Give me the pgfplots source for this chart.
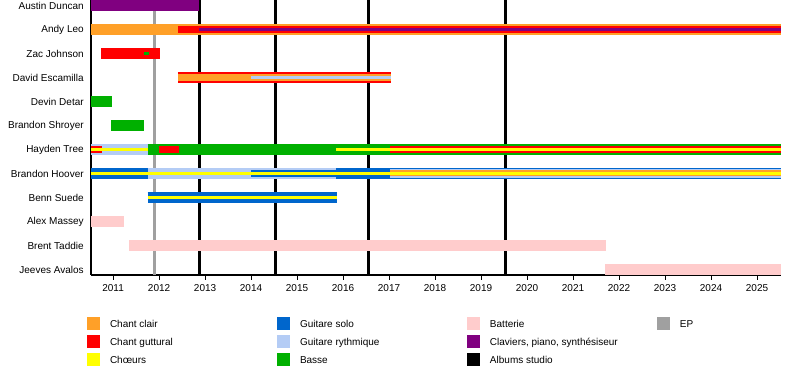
\documentclass[border=0pt]{standalone}
\usepackage{fontspec}
\setmainfont{Liberation Sans}
\usepackage{pgfplots}
\pgfplotsset{compat=1.18}
\definecolor{corange}{RGB}{255,160,40}
\definecolor{cred}{RGB}{255,0,0}
\definecolor{cyellow}{RGB}{255,255,0}
\definecolor{cblue}{RGB}{0,102,204}
\definecolor{clblue}{RGB}{180,204,245}
\definecolor{cgreen}{RGB}{0,176,0}
\definecolor{cpink}{RGB}{255,204,204}
\definecolor{cpurple}{RGB}{128,0,128}
\definecolor{cgray}{RGB}{160,160,160}
\newcommand{\seg}[5]{\addplot[#1,#2] coordinates {(#3,#5) (#4,#5)};}
\newcommand{\vmark}[2]{\addplot[#1,forget plot,mark=none] coordinates {(#2,-0.229) (#2,11.229)};}
\begin{document}
\begin{tikzpicture}
\useasboundingbox (0,0) rectangle (600pt,277.5pt);
\begin{axis}[
  scale only axis, width=517.5pt, height=206.25pt,
  at={(68.25pt,71.25pt)}, anchor=south west,
  xmin=2010.52, xmax=2025.52, ymin=-0.229, ymax=11.229,
  axis x line*=bottom, axis y line*=left,
  axis line style={line width=0.9pt,-},
  xtick={2011,...,2025},
  tick align=outside, major tick length=3.75pt,
  xtick style={line width=0.6pt,black},
  ytick={0,...,11},
  yticklabels={Jeeves Avalos,Brent Taddie,Alex Massey,Benn Suede,Brandon Hoover,Hayden Tree,Brandon Shroyer,Devin Detar,David Escamilla,Zac Johnson,Andy Leo,Austin Duncan},
  ytick style={draw=none},
  yticklabel style={xshift=1.8pt},
  /pgf/number format/assume math mode=true,
  /pgf/number format/1000 sep={},
  tick label style={font=\fontsize{7.5}{9}\selectfont},
  full/.style={line width=8.8pt,line cap=butt,forget plot,mark=none},
  mid/.style={line width=5.625pt,line cap=butt,forget plot,mark=none},
  mid2/.style={line width=6.75pt,line cap=butt,forget plot,mark=none},
  mid3/.style={line width=4.5pt,line cap=butt,forget plot,mark=none},
  thin/.style={line width=2.625pt,line cap=butt,forget plot,mark=none},
  legend columns=4,
  legend cell align=left,
  legend image code/.code={\fill[#1] (0pt,-4.875pt) rectangle (9.75pt,4.875pt);},
  legend style={draw=none, fill=none, at={(0,0)}, anchor=north west,
    xshift=-3pt, yshift=-30pt, inner sep=0pt, outer sep=0pt,
    font=\fontsize{7.5}{9}\selectfont,
    nodes={text height=7pt, text depth=2pt, inner ysep=2.25pt, inner xsep=0pt},
    /tikz/every odd column/.append style={column sep=7.5pt},
    /tikz/every even column/.append style={column sep=0pt}},
]
% vertical lines: EP and studio albums
\vmark{cgray,line width=2.25pt}{2011.91}
\vmark{black,line width=2.25pt}{2012.87}
\vmark{black,line width=2.25pt}{2014.54}
\vmark{black,line width=2.25pt}{2016.55}
\vmark{black,line width=2.25pt}{2019.54}
% Austin Duncan (11)
\seg{cpurple}{full}{2010.52}{2012.87}{11}
% Andy Leo (10)
\seg{corange}{full}{2010.52}{2025.52}{10}
\seg{cred}{mid}{2012.41}{2025.52}{10}
\seg{cpurple}{thin}{2012.87}{2025.52}{10}
% Zac Johnson (9)
\seg{cred}{full}{2010.74}{2012.02}{9}
\seg{cgreen}{thin}{2011.67}{2011.77}{9}
% David Escamilla (8)
\seg{cred}{full}{2012.41}{2017.04}{8}
\seg{corange}{mid}{2012.41}{2017.04}{8}
\seg{clblue}{thin}{2014.0}{2017.04}{8}
% Devin Detar (7)
\seg{cgreen}{full}{2010.52}{2010.98}{7}
% Brandon Shroyer (6)
\seg{cgreen}{full}{2010.96}{2011.67}{6}
% Hayden Tree (5)
\seg{clblue}{full}{2010.52}{2011.75}{5}
\seg{cred}{mid}{2010.52}{2010.75}{5}
\seg{cyellow}{thin}{2010.52}{2011.75}{5}
\seg{cgreen}{full}{2011.75}{2025.52}{5}
\seg{cred}{mid}{2012.0}{2012.43}{5}
\seg{cred}{mid}{2017.02}{2025.52}{5}
\seg{cyellow}{thin}{2015.85}{2025.52}{5}
% Brandon Hoover (4)
\seg{cblue}{full}{2010.52}{2011.75}{4}
\seg{clblue}{full}{2011.75}{2014.0}{4}
\seg{clblue}{full}{2014.0}{2015.85}{4}
\seg{cblue}{mid}{2014.0}{2015.85}{4}
\seg{cblue}{full}{2015.85}{2025.52}{4}
\seg{clblue}{mid2}{2017.02}{2025.52}{4}
\seg{corange}{mid3}{2017.02}{2025.52}{4}
\seg{cyellow}{thin}{2010.52}{2025.52}{4}
% Benn Suede (3)
\seg{cblue}{full}{2011.75}{2015.87}{3}
\seg{cyellow}{thin}{2011.75}{2015.87}{3}
% Alex Massey (2)
\seg{cpink}{full}{2010.52}{2011.24}{2}
% Brent Taddie (1)
\seg{cpink}{full}{2011.35}{2021.72}{1}
% Jeeves Avalos (0)
\seg{cpink}{full}{2021.70}{2025.52}{0}
% legend (row-major, 4 columns)
\addlegendimage{fill=corange,draw=none}\addlegendentry{\makebox[125.25pt][l]{Chant clair}}
\addlegendimage{fill=cblue,draw=none}\addlegendentry{\makebox[125.25pt][l]{Guitare solo}}
\addlegendimage{fill=cpink,draw=none}\addlegendentry{\makebox[125.25pt][l]{Batterie}}
\addlegendimage{fill=cgray,draw=none}\addlegendentry{\makebox[40pt][l]{EP}}
\addlegendimage{fill=cred,draw=none}\addlegendentry{\makebox[125.25pt][l]{Chant guttural}}
\addlegendimage{fill=clblue,draw=none}\addlegendentry{\makebox[125.25pt][l]{Guitare rythmique}}
\addlegendimage{fill=cpurple,draw=none}\addlegendentry{\makebox[125.25pt][l]{Claviers, piano, synthésiseur}}
\addlegendimage{fill=white,draw=none,fill opacity=0}\addlegendentry{}
\addlegendimage{fill=cyellow,draw=none}\addlegendentry{\makebox[125.25pt][l]{Chœurs}}
\addlegendimage{fill=cgreen,draw=none}\addlegendentry{\makebox[125.25pt][l]{Basse}}
\addlegendimage{fill=black,draw=none}\addlegendentry{\makebox[125.25pt][l]{Albums studio}}
\end{axis}
\end{tikzpicture}
\end{document}
